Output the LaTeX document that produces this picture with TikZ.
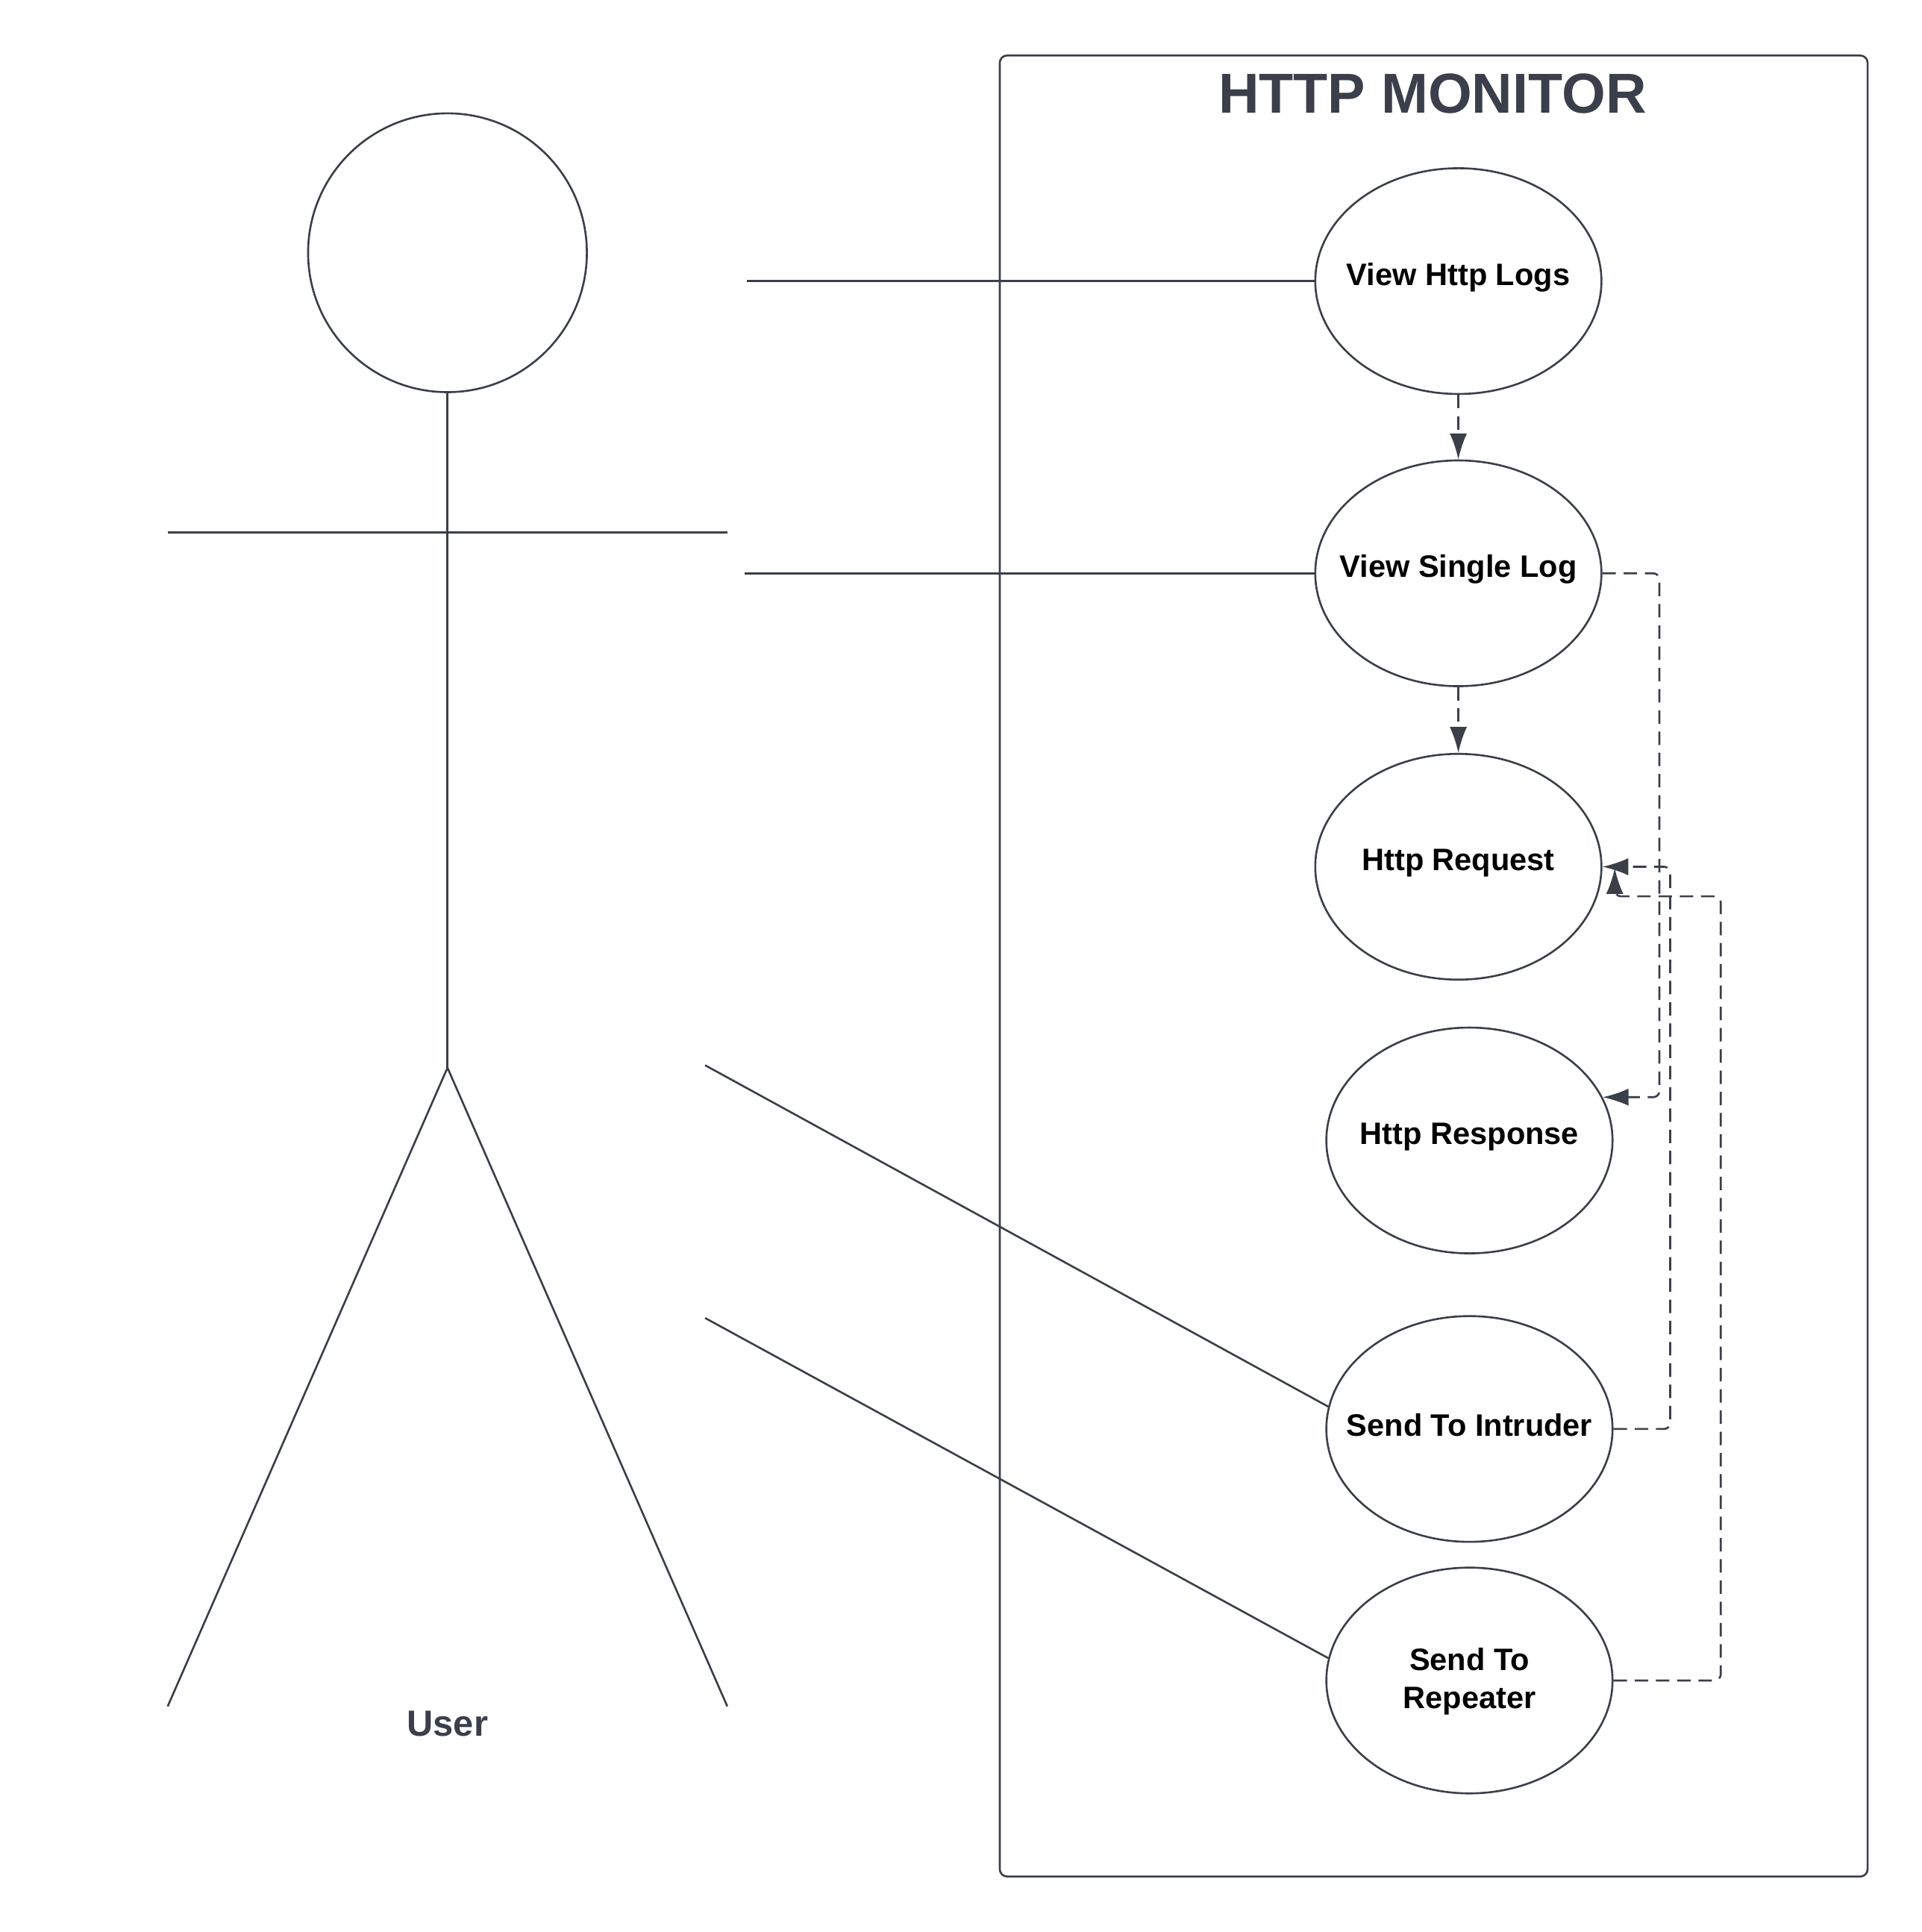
\documentclass[tikz,border=0pt]{standalone}
\usepackage{fontspec}
\setmainfont{Liberation Sans}
\usetikzlibrary{arrows.meta,calc,shapes.geometric}
\definecolor{ln}{RGB}{58,63,72}
\definecolor{tx}{RGB}{58,63,75}
\begin{document}
\begin{tikzpicture}[x=0.01cm,y=-0.01cm,
  line width=0.45pt,
  uc/.style={draw=ln,ellipse,minimum width=2.32cm,minimum height=1.83cm,inner sep=0pt},
  uct/.style={font=\fontsize{7.15}{8.8}\selectfont\bfseries,align=center,text=black,inner sep=0pt},
  assoc/.style={draw=ln},
  dep/.style={draw=ln,dash pattern=on 3.1pt off 1.8pt,rounded corners=0.05cm,
    -{Latex[length=0.21cm,width=0.14cm]}}]
\useasboundingbox (0,0) rectangle (1559,1567);
% system boundary
\draw[ln,rounded corners=0.06cm] (811,45) rectangle (1515,1522);
\node[font=\fontsize{13}{15}\selectfont\bfseries,text=tx] (title) at (1162,76) {HTTP MONITOR};
% actor
\node[circle,draw=ln,minimum size=2.26cm,inner sep=0pt] (head) at (363,205) {};
\coordinate (hip) at (363,866);
\coordinate (armL) at (136,432);
\coordinate (armR) at (590,432);
\coordinate (legL) at (136,1384);
\coordinate (legR) at (590,1384);
\draw[ln] (head.south) -- (hip);
\draw[ln] (armL) -- (armR);
\draw[ln] (legL) -- (hip) -- (legR);
\node[font=\fontsize{8.4}{10}\selectfont\bfseries,text=tx] (user) at (363,1398) {User};
% use cases
\node[uc] (vhl) at (1183,228) {};
\node[uc] (vsl) at (1183,465) {};
\node[uc] (req) at (1183,703) {};
\node[uc] (resp) at (1192,925) {};
\node[uc] (intr) at (1192,1159) {};
\node[uc] (rep) at (1192,1363) {};
\node[uct] (vhlt) at (1183,225) {View Http Logs};
\node[uct] (vslt) at (1183,462) {View Single Log};
\node[uct] (reqt) at (1183,700) {Http Request};
\node[uct] (respt) at (1192,922) {Http Response};
\node[uct] (intrt) at (1192,1156) {Send To Intruder};
\node[uct] (rept) at (1192,1364) {Send To\\Repeater};
% associations
\coordinate (a1) at (606,228);
\coordinate (a2) at (604,465);
\coordinate (a3) at (572,864);
\coordinate (a4) at (572,1069);
\draw[assoc] (a1) -- (vhl.west);
\draw[assoc] (a2) -- (vsl.west);
\draw[assoc] (a3) -- (intr.171);
\draw[assoc] (a4) -- (rep.171);
% dependencies
\draw[dep] (vhl.south) -- (vsl.north);
\draw[dep] (vsl.south) -- (req.north);
\draw[dep] (vsl.east) -| ($(resp.18)+(46,0)$) -- (resp.18);
\draw[dep] (intr.east) -- ++(46,0) |- (req.east);
\coordinate (rbend) at ($(req.east)+(10,24)$);
\coordinate (rtip) at ($(req.east)+(10,1)$);
\draw[dep] (rep.east) -- ++(87,0) |- (rbend) -- (rtip);
\end{tikzpicture}
\end{document}
